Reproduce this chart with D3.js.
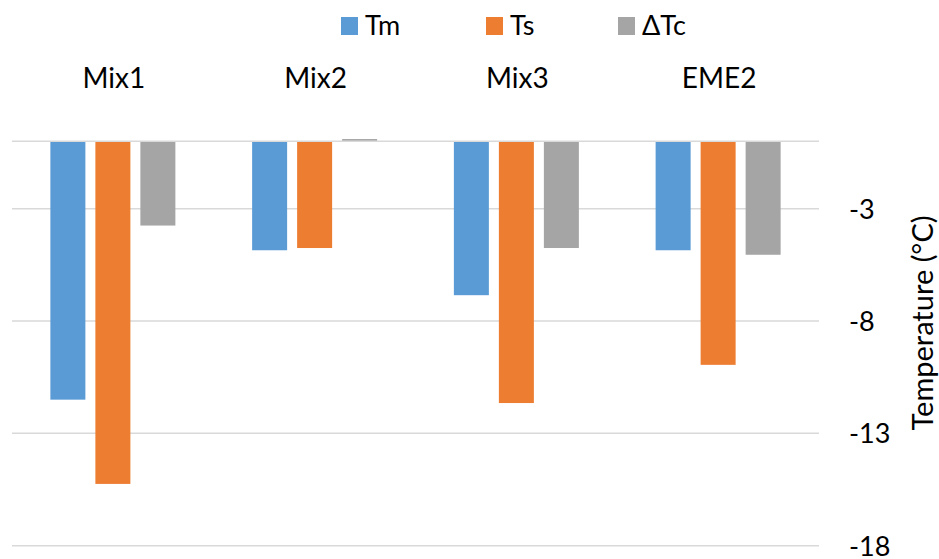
<!DOCTYPE html>
<html>
<head>
<meta charset="utf-8">
<script src="https://cdn.jsdelivr.net/npm/d3@7"></script>
<style>
  html, body { margin: 0; padding: 0; background: #fff; }
  svg { display: block; font-family: Lato, "Open Sans", sans-serif; }
</style>
</head>
<body>
<svg id="chart" width="939" height="559"></svg>
<script>
const categories = ["Mix1", "Mix2", "Mix3", "EME2"];
const seriesNames = ["Tm", "Ts", "ΔTc"];
const Tm  = [-11.5, -4.85, -6.85, -4.85];
const Ts  = [-15.25, -4.75, -11.65, -9.95];
const dTc = [-3.75, 0.1, -4.75, -5.05];
const tickValues = [-3, -8, -13, -18];
const colors = ["#5B9BD5", "#ED7D31", "#A5A5A5"];

const seriesValues = [Tm, Ts, dTc];
const data = categories.map((c, i) => ({
  cat: c,
  vals: seriesNames.map((s, j) => ({ s, v: seriesValues[j][i], color: colors[j] }))
}));

const svg = d3.select("#chart");
const left = 12, right = 819, y0px = 141.3, yMinPx = 545.7;

const x = d3.scaleBand().domain(categories).range([left, right]).padding(0);
const y = d3.scaleLinear().domain([-18, 0]).range([yMinPx, y0px]);

// gridlines
svg.append("g").selectAll("line").data(tickValues).join("line")
  .attr("x1", left).attr("x2", right)
  .attr("y1", d => y(d)).attr("y2", d => y(d))
  .attr("stroke", "#D9D9D9").attr("stroke-width", 1.5);

// bars
const groupW = 125;
const xs = d3.scaleBand().domain(seriesNames).range([0, groupW]).paddingInner(10 / 45).paddingOuter(0);

const g = svg.append("g").selectAll("g").data(data).join("g")
  .attr("transform", d => `translate(${x(d.cat) + x.bandwidth() / 2 - groupW / 2},0)`);

g.selectAll("rect").data(d => d.vals).join("rect")
  .attr("x", d => xs(d.s))
  .attr("width", xs.bandwidth())
  .attr("y", d => Math.min(y(d.v), y(0)))
  .attr("height", d => Math.abs(y(d.v) - y(0)))
  .attr("fill", d => d.color);

// zero axis line
svg.append("line")
  .attr("x1", left).attr("x2", right)
  .attr("y1", y(0)).attr("y2", y(0))
  .attr("stroke", "#D9D9D9").attr("stroke-width", 1.5);

// category labels (top)
svg.append("g").selectAll("text").data(categories).join("text")
  .attr("x", d => x(d) + x.bandwidth() / 2 + 1)
  .attr("y", 88)
  .attr("text-anchor", "middle")
  .attr("font-size", 28)
  .attr("fill", "#000")
  .text(d => d);

// right axis tick labels
const yAxis = d3.axisRight(y).tickValues(tickValues).tickSize(0).tickPadding(0).tickFormat(d => String(d));
const ax = svg.append("g").attr("transform", `translate(849,0)`).call(yAxis);
ax.select(".domain").remove();
ax.selectAll("text").attr("font-size", 27).attr("fill", "#000")
  .attr("font-family", "Lato, 'Open Sans', sans-serif").attr("dy", "0.35em");

// axis title
svg.append("text")
  .attr("transform", `translate(933,323) rotate(-90)`)
  .attr("text-anchor", "middle")
  .attr("font-size", 29)
  .attr("fill", "#000")
  .text("Temperature (°C)");

// legend
const legendX = [341, 486, 618];
const lg = svg.append("g").selectAll("g").data(seriesNames).join("g")
  .attr("transform", (d, i) => `translate(${legendX[i]},17)`);
lg.append("rect").attr("width", 17).attr("height", 18).attr("fill", (d, i) => colors[i]);
lg.append("text").attr("x", 24).attr("y", 18).attr("font-size", 27).attr("fill", "#000").text(d => d);
</script>
</body>
</html>
